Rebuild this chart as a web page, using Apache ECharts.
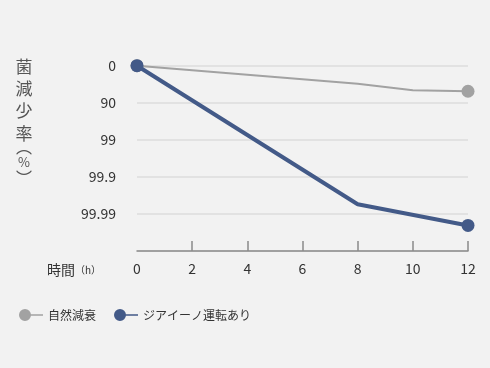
<!DOCTYPE html>
<html><head><meta charset="utf-8">
<script src="https://cdn.jsdelivr.net/npm/echarts@6/dist/echarts.min.js"></script>
<style>html,body{margin:0;padding:0;background:#f2f2f2;}#c{width:490px;height:368px;}</style>
</head><body><div id="c"></div>
<script>
// Data
const seriesNames = ['自然減衰', 'ジアイーノ運転あり'];
const naturalHours = [0, 8, 10, 12];
const naturalLevels = [0, 0.49, 0.66, 0.69];
const ziaHours = [0, 8, 12];
const ziaLevels = [0, 3.74, 4.31];
const yTickLabels = ['0', '90', '99', '99.9', '99.99'];
const xTicks = [0, 2, 4, 6, 8, 10, 12];

const FONT = '"Noto Sans CJK JP", "Noto Sans", sans-serif';
const GRAY = '#a2a2a2';
const BLUE = '#435a88';
const NAME_COLOR = '#555';

function build(hours, levels) {
  return hours.map((h, i) => {
    const last = i === hours.length - 1;
    const first = i === 0;
    return (first || last) ? { value: [h, levels[i]] } : { value: [h, levels[i]], symbol: 'none' };
  });
}

const iconPath = 'path://M0,6 A6,6 0 1,1 12,6 A6,6 0 1,1 0,6 Z M11,5.25 L24,5.25 L24,6.75 L11,6.75 Z';

const chart = echarts.init(document.getElementById('c'), null, { renderer: 'canvas' });
chart.setOption({
  backgroundColor: '#f2f2f2',
  animation: false,
  textStyle: { fontFamily: FONT },
  grid: { left: 137, right: 22, top: 65.7, bottom: 117, containLabel: false },
  legend: {
    left: 14, top: 304, itemWidth: 24, itemHeight: 12, itemGap: 18,
    textStyle: { fontSize: 12, color: '#333', fontFamily: FONT },
    data: [
      { name: seriesNames[0], icon: iconPath },
      { name: seriesNames[1], icon: iconPath }
    ]
  },
  xAxis: {
    type: 'value', min: 0, max: 12, interval: 2, position: 'bottom',
    axisLine: { show: true, onZero: false, lineStyle: { color: '#8a8a8a', width: 1.5 } },
    axisTick: { show: true, inside: true, length: 10, customValues: xTicks.slice(1), lineStyle: { color: '#8a8a8a', width: 1.5 } },
    axisLabel: { fontSize: 14, color: '#333', margin: 11, fontFamily: FONT },
    splitLine: { show: false }
  },
  yAxis: {
    type: 'value', inverse: true, min: 0, max: 5, interval: 1,
    axisLine: { show: false }, axisTick: { show: false },
    axisLabel: {
      fontSize: 14, color: '#333', margin: 21, fontFamily: FONT,
      formatter: v => (yTickLabels[v] !== undefined ? yTickLabels[v] : '')
    },
    splitLine: { show: true, lineStyle: { color: '#dddddd', width: 1.5 } }
  },
  graphic: [
    {
      type: 'text', x: 24, y: 55,
      style: {
        text: '菌\n減\n少\n率', align: 'center', verticalAlign: 'top',
        fill: NAME_COLOR, fontSize: 17, lineHeight: 22.4, fontFamily: FONT
      }
    },
    {
      type: 'text', x: 24, y: 146.5,
      style: { text: '︵', align: 'center', verticalAlign: 'middle', fill: NAME_COLOR, fontSize: 16, fontFamily: FONT }
    },
    {
      type: 'text', x: 24, y: 162.5,
      style: { text: '%', align: 'center', verticalAlign: 'middle', fill: NAME_COLOR, fontSize: 13, fontFamily: FONT }
    },
    {
      type: 'text', x: 24, y: 178,
      style: { text: '︶', align: 'center', verticalAlign: 'middle', fill: NAME_COLOR, fontSize: 16, fontFamily: FONT }
    },
    {
      type: 'text', x: 47, y: 270,
      style: {
        text: '{a|時間}{b|（h）}', verticalAlign: 'middle', fill: '#333',
        rich: {
          a: { fontSize: 14, fill: '#333', fontFamily: FONT },
          b: { fontSize: 10, fill: '#333', fontFamily: FONT }
        }
      }
    }
  ],
  series: [
    {
      name: seriesNames[0], type: 'line', data: build(naturalHours, naturalLevels),
      symbol: 'circle', symbolSize: 13, showSymbol: true,
      lineStyle: { color: GRAY, width: 2 }, itemStyle: { color: GRAY }, z: 2
    },
    {
      name: seriesNames[1], type: 'line', data: build(ziaHours, ziaLevels),
      symbol: 'circle', symbolSize: 13, showSymbol: true,
      lineStyle: { color: BLUE, width: 4 }, itemStyle: { color: BLUE }, z: 3
    }
  ]
});
</script></body></html>
